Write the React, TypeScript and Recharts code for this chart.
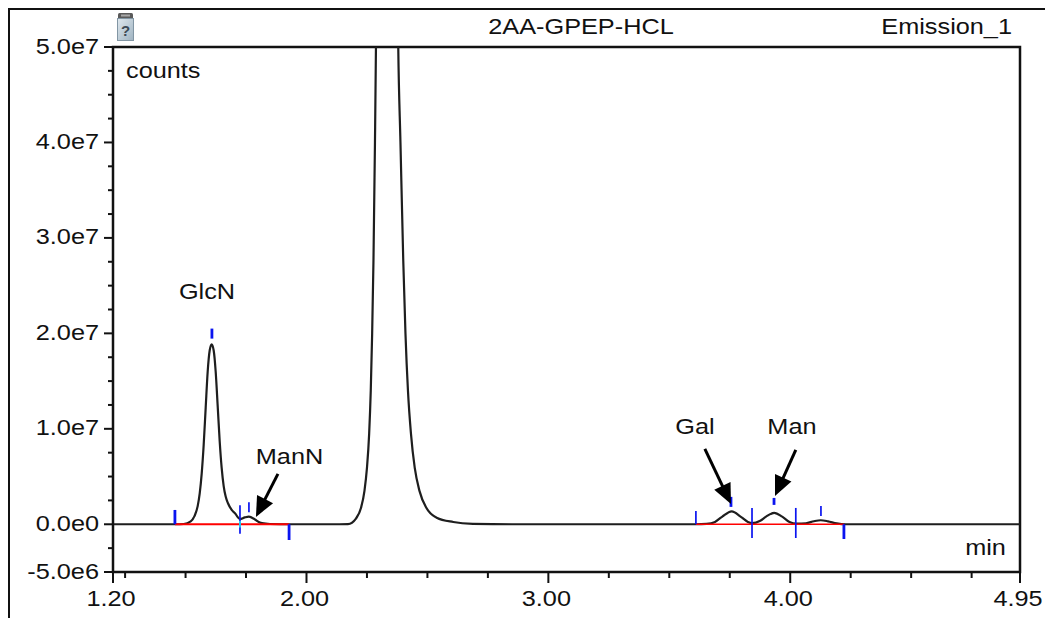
import React from 'react';
import { LineChart, Line, XAxis, YAxis, ReferenceLine, ReferenceDot, ReferenceArea } from 'recharts';

const FONT = '"Liberation Sans", Arial, Helvetica, sans-serif';
const INK = '#111111';
const BLUE = '#0a14f0';
const RED = '#ff0000';

// ---------- chromatogram trace: [time (min), counts] ----------
const baselineLead: number[][] = [
  [1.2, 0], [1.35, 0], [1.46, 0],
];
const glcnRegion: number[][] = [
  [1.4922, 0.03e6], [1.5212, 0.3e6], [1.5377, 0.9e6], [1.5501, 1.9e6], [1.5584, 3.2e6],
  [1.5667, 5.3e6], [1.5749, 8.3e6], [1.5832, 12.2e6], [1.5915, 16.0e6], [1.5997, 18.2e6],
  [1.608, 18.85e6], [1.6163, 18.2e6], [1.6245, 16.0e6], [1.6328, 12.4e6], [1.6411, 8.7e6],
  [1.6493, 5.9e6], [1.6576, 4.0e6], [1.6659, 2.9e6], [1.6754, 2.2e6], [1.6907, 1.5e6],
  [1.7043, 1.15e6], [1.725, 0.55e6], [1.745, 0.72e6], [1.762, 0.8e6], [1.787, 0.5e6],
  [1.808, 0.17e6], [1.849, 0.03e6], [1.932, 0], [2.1, 0],
];
const mainPeak: number[][] = [
  [2.1715, 0.02e6], [2.2045, 0.6e6], [2.2252, 1.7e6], [2.2397, 3.5e6], [2.25, 5.9e6],
  [2.2591, 9.5e6], [2.2657, 14e6], [2.2715, 20e6], [2.2769, 27.6e6], [2.2831, 40e6],
  [2.2872, 50e6], [2.3, 110e6], [2.332, 200e6], [2.36, 120e6], [2.3794, 50e6],
  [2.3885, 40e6], [2.4001, 27.6e6], [2.4092, 20e6], [2.4195, 14e6], [2.4319, 9.5e6],
  [2.4476, 5.9e6], [2.4671, 3.5e6], [2.496, 1.7e6], [2.5382, 0.69e6], [2.6068, 0.24e6],
  [2.6882, 0.05e6], [2.85, 0], [3.4, 0],
];
const sugarRegion: number[][] = [
  [3.61, 0], [3.654, 0.04e6], [3.689, 0.25e6], [3.718, 0.78e6], [3.758, 1.35e6],
  [3.796, 0.78e6], [3.825, 0.25e6], [3.842, 0.12e6], [3.876, 0.37e6], [3.9, 0.8e6],
  [3.934, 1.2e6], [3.967, 0.8e6], [3.997, 0.25e6], [4.026, 0.07e6], [4.065, 0.11e6],
  [4.098, 0.32e6], [4.126, 0.42e6], [4.156, 0.31e6], [4.192, 0.09e6], [4.23, 0],
  [4.5, 0], [4.95, 0],
];

// ---------- integration marks ----------
// [time, from counts, to counts]
const apexAndEndMarks: number[][] = [
  [1.456, 0, 1.5e6], [1.609, 19.45e6, 20.5e6], [1.928, 0, -1.65e6],
  [3.755, 1.82e6, 2.87e6], [3.933, 2.03e6, 2.76e6], [4.222, 0, -1.54e6],
];
const boundaryMarks: number[][] = [
  [1.725, 2.0e6, -1.0e6], [1.762, 1.25e6, 2.3e6], [3.61, 0, 1.4e6],
  [3.842, 1.71e6, -1.44e6], [4.023, 1.71e6, -1.44e6], [4.127, 0.87e6, 1.92e6],
];
const valleyTouch: number[][] = [[1.725, 0.35e6, -0.35e6]];
// [start time, end time] at zero counts
const baselineSpans: number[][] = [[1.456, 1.928], [3.61, 4.222]];

// ---------- annotations ----------
// [tail time, tail counts, tip time, tip counts]
const arrows: number[][] = [
  [1.882, 5.28e6, 1.791, 0.77e6],
  [3.647, 7.9e6, 3.755, 2.13e6],
  [4.023, 7.8e6, 3.937, 2.97e6],
];
const peakNames = ['GlcN', 'ManN', 'Gal', 'Man'];
const peakNameTimes = [1.5886, 1.9297, 3.606, 4.007];
const peakNameCounts = [23.65e6, 6.33e6, 9.48e6, 9.48e6];

// ---------- axes ----------
const xTicks = [1.2, 1.25, 1.5, 1.75, 2, 2.25, 2.5, 2.75, 3, 3.25, 3.5, 3.75, 4, 4.25, 4.5, 4.75, 4.95];
const xMajor = [1.2, 2, 3, 4, 4.95];
const yTicks = [
  -5000000, -2500000, 0, 2500000, 5000000, 7500000, 10000000, 12500000, 15000000,
  17500000, 20000000, 22500000, 25000000, 27500000, 30000000, 32500000, 35000000,
  37500000, 40000000, 42500000, 45000000, 47500000, 50000000,
];
const yMajor = [-5000000, 0, 10000000, 20000000, 30000000, 40000000, 50000000];
const xDomain = [1.2, 4.95];
const yDomain = [-5000000, 50000000];

const chartTitle = '2AA-GPEP-HCL';
const channelName = 'Emission_1';
const yUnit = 'counts';
const xUnit = 'min';

const curveData = [...baselineLead, ...glcnRegion, ...mainPeak, ...sugarRegion].map(([t, v]) => ({ t, v }));

function StretchText(props: { x: number; y: number; anchor?: string; size?: number; children: any }) {
  const { x, y, anchor = 'start', size = 22, children } = props;
  return (
    <text
      transform={`translate(${x} ${y}) scale(1.15 1)`}
      textAnchor={anchor}
      fontFamily={FONT}
      fontSize={size}
      fill={INK}
    >
      {children}
    </text>
  );
}

const fmtY = (v: number) => v.toExponential(1).replace('e+', 'e');

const YTick = (p: any) => {
  const { x, y, payload } = p;
  const v = payload.value;
  const major = yMajor.includes(v);
  return (
    <g>
      <line x1={x - (major ? 9 : 5)} x2={x} y1={y} y2={y} stroke={INK} strokeWidth={2} />
      {major && (
        <StretchText x={x - 14} y={y + 6.5} anchor="end">
          {fmtY(v)}
        </StretchText>
      )}
    </g>
  );
};

const XTick = (p: any) => {
  const { x, y, payload } = p;
  const v = payload.value;
  const major = xMajor.includes(v);
  return (
    <g>
      <line x1={x} x2={x} y1={y} y2={y + (major ? 11 : 6)} stroke={INK} strokeWidth={2} />
      {major && (
        <StretchText x={x - 2} y={y + 34} anchor="middle">
          {v.toFixed(2)}
        </StretchText>
      )}
    </g>
  );
};

const ArrowShape = (p: any) => {
  const { x1, y1, x2, y2 } = p;
  const dx = x2 - x1;
  const dy = y2 - y1;
  const len = Math.hypot(dx, dy) || 1;
  const ux = dx / len;
  const uy = dy / len;
  const hl = 20;
  const hw = 9;
  const bx = x2 - ux * hl;
  const by = y2 - uy * hl;
  const px = -uy;
  const py = ux;
  return (
    <g>
      <line x1={x1} y1={y1} x2={bx + ux * 2} y2={by + uy * 2} stroke="#000" strokeWidth={3} />
      <polygon
        points={`${x2},${y2} ${bx + px * hw},${by + py * hw} ${bx - px * hw},${by - py * hw}`}
        fill="#000"
      />
    </g>
  );
};

const textShape = (text: string, anchor: string) => (p: any) => (
  <StretchText x={p.cx} y={p.cy} anchor={anchor}>
    {text}
  </StretchText>
);

function HelpIcon() {
  return (
    <g>
      <defs>
        <linearGradient id="iconBody" x1="0" y1="0" x2="1" y2="1">
          <stop offset="0" stopColor="#dfe8ee" />
          <stop offset="1" stopColor="#9fb3c1" />
        </linearGradient>
      </defs>
      <rect x={110} y={5} width={15} height={6} rx={1.5} fill="#5a5a5a" />
      <rect x={113} y={6.5} width={9} height={2} fill="#a8a8a8" />
      <rect x={109.5} y={10.5} width={16} height={22} fill="url(#iconBody)" stroke="#8296a4" strokeWidth={1} />
      <text x={117.5} y={28} textAnchor="middle" fontFamily={FONT} fontSize={15} fontWeight="bold" fill="#3c4a55">
        ?
      </text>
    </g>
  );
}

export default function App() {
  const W = 1037;
  const H = 610;
  return (
    <div style={{ position: 'fixed', left: 8, top: 8, width: W, height: H, background: '#fff', overflow: 'hidden' }}>
      <LineChart
        width={W}
        height={H}
        data={curveData}
        margin={{ top: 39, right: 25, bottom: 0, left: 7 }}
        style={{ fontFamily: FONT }}
      >
        <XAxis xAxisId="pad" type="number" domain={[0, 1]} height={6} tick={false} axisLine={false} tickLine={false} />
        <XAxis
          xAxisId="main"
          type="number"
          dataKey="t"
          domain={xDomain}
          allowDataOverflow
          ticks={xTicks}
          interval={0}
          height={40}
          tickSize={0}
          tickMargin={0}
          tickLine={false}
          axisLine={{ stroke: INK, strokeWidth: 2 }}
          tick={XTick}
        />
        <YAxis yAxisId="pad" type="number" domain={[0, 1]} width={8} tick={false} axisLine={false} tickLine={false} />
        <YAxis
          yAxisId="main"
          type="number"
          domain={yDomain}
          allowDataOverflow
          ticks={yTicks}
          interval={0}
          width={90}
          tickSize={0}
          tickMargin={0}
          tickLine={false}
          axisLine={{ stroke: INK, strokeWidth: 2 }}
          tick={YTick}
        />

        <ReferenceArea
          xAxisId="main"
          yAxisId="main"
          x1={xDomain[0]}
          x2={xDomain[1]}
          y1={yDomain[0]}
          y2={yDomain[1]}
          fill="none"
          fillOpacity={0}
          stroke={INK}
          strokeWidth={2.5}
          ifOverflow="visible"
        />

        <Line
          xAxisId="main"
          yAxisId="main"
          type="monotone"
          dataKey="v"
          stroke="#1e1e1e"
          strokeWidth={2.2}
          dot={false}
          activeDot={false}
          isAnimationActive={false}
        />

        {baselineSpans.map(([a, b], i) => (
          <ReferenceLine
            key={`bl${i}`}
            xAxisId="main"
            yAxisId="main"
            segment={[{ x: a, y: 0 }, { x: b, y: 0 }]}
            stroke={RED}
            strokeWidth={i === 0 ? 2.2 : 1.6}
          />
        ))}
        {apexAndEndMarks.map(([t, a, b], i) => (
          <ReferenceLine
            key={`am${i}`}
            xAxisId="main"
            yAxisId="main"
            segment={[{ x: t, y: a }, { x: t, y: b }]}
            stroke={BLUE}
            strokeWidth={2.8}
          />
        ))}
        {boundaryMarks.map(([t, a, b], i) => (
          <ReferenceLine
            key={`bm${i}`}
            xAxisId="main"
            yAxisId="main"
            segment={[{ x: t, y: a }, { x: t, y: b }]}
            stroke={BLUE}
            strokeWidth={1.7}
          />
        ))}
        {valleyTouch.map(([t, a, b], i) => (
          <ReferenceLine
            key={`vt${i}`}
            xAxisId="main"
            yAxisId="main"
            segment={[{ x: t, y: a }, { x: t, y: b }]}
            stroke="#22e0f0"
            strokeWidth={1.7}
          />
        ))}
        {arrows.map(([t1, v1, t2, v2], i) => (
          <ReferenceLine
            key={`ar${i}`}
            xAxisId="main"
            yAxisId="main"
            segment={[{ x: t1, y: v1 }, { x: t2, y: v2 }]}
            shape={ArrowShape}
          />
        ))}
        {peakNames.map((name, i) => (
          <ReferenceDot
            key={`pn${i}`}
            xAxisId="main"
            yAxisId="main"
            x={peakNameTimes[i]}
            y={peakNameCounts[i]}
            r={1}
            shape={textShape(name, 'middle')}
          />
        ))}
        <ReferenceDot xAxisId="main" yAxisId="main" x={1.2537} y={46.74e6} r={1} shape={textShape(yUnit, 'start')} />
        <ReferenceDot xAxisId="main" yAxisId="main" x={4.8916} y={-3.22e6} r={1} shape={textShape(xUnit, 'end')} />
      </LineChart>

      <svg width={W} height={H} style={{ position: 'absolute', left: 0, top: 0, pointerEvents: 'none' }}>
        <line x1={0} y1={1} x2={W} y2={1} stroke={INK} strokeWidth={2} />
        <line x1={1} y1={0} x2={1} y2={H} stroke={INK} strokeWidth={2} />
        <HelpIcon />
        <StretchText x={573} y={26} anchor="middle">
          {chartTitle}
        </StretchText>
        <StretchText x={1004} y={26} anchor="end">
          {channelName}
        </StretchText>
      </svg>
    </div>
  );
}
